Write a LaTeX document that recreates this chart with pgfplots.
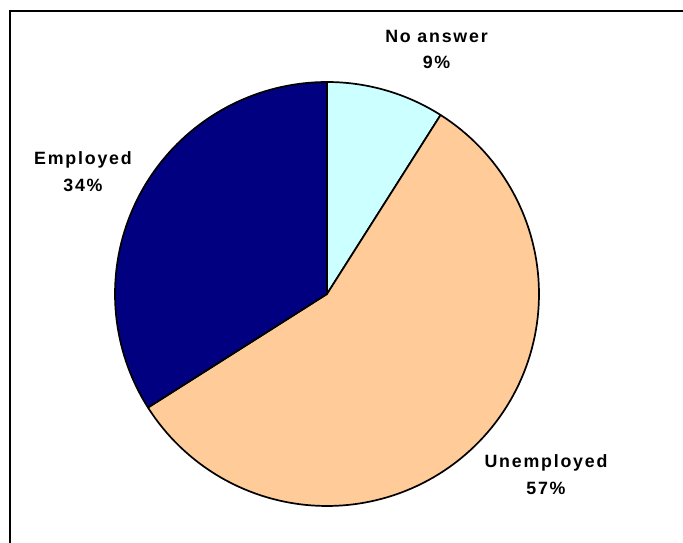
\documentclass[border=0pt]{standalone}
\usepackage{pgfplots}
\pgfplotsset{compat=1.18}
\usepackage{pgfplotstable}
\usepackage{fontspec}
\setmainfont{Liberation Sans}
\newfontfamily\lblfont[LetterSpace=10]{Liberation Sans}
\definecolor{noans}{HTML}{CCFFFF}
\definecolor{unemp}{HTML}{FFCC99}
\definecolor{emp}{HTML}{000080}
% share in percent, drawn clockwise from 12 o'clock
\pgfplotstableread{
label       share
NoAnswer    9
Unemployed  57
Employed    34
}\piedata
\begin{document}
\begin{tikzpicture}
\pgfplotstablegetelem{0}{share}\of\piedata \let\sA\pgfplotsretval
\pgfplotstablegetelem{1}{share}\of\piedata \let\sB\pgfplotsretval
\pgfplotstablegetelem{2}{share}\of\piedata \let\sC\pgfplotsretval
\pgfmathsetmacro{\aA}{90}
\pgfmathsetmacro{\aB}{\aA-3.6*\sA}
\pgfmathsetmacro{\aC}{\aB-3.6*\sB}
\pgfmathsetmacro{\aD}{\aC-3.6*\sC}
\begin{axis}[
  name=ax,
  scale only axis, width=683pt, height=543pt,
  xmin=0, xmax=683, ymin=0, ymax=543,
  hide axis, clip=false,
]
% frame
\draw[line width=2pt] (axis cs:10,0) -- (axis cs:10,532) -- (axis cs:683,532);
% pie sectors
\addplot[fill=noans, draw=black, line width=1.7pt, line join=round, domain=\aB:\aA, samples=40]
  ({327+212*cos(x)},{249+212*sin(x)}) -- (axis cs:327,249) -- cycle;
\addplot[fill=unemp, draw=black, line width=1.7pt, line join=round, domain=\aC:\aB, samples=120]
  ({327+212*cos(x)},{249+212*sin(x)}) -- (axis cs:327,249) -- cycle;
\addplot[fill=emp, draw=black, line width=1.7pt, line join=round, domain=\aD:\aC, samples=80]
  ({327+212*cos(x)},{249+212*sin(x)}) -- (axis cs:327,249) -- cycle;
% labels
\tikzset{lbl/.style={anchor=base, inner sep=0pt, font=\lblfont\bfseries\fontsize{17.8}{19}\selectfont}}
\node[lbl] at (axis cs:436.5,500.3) {No answer};
\node[lbl] at (axis cs:436.5,474) {\sA\%};
\node[lbl] at (axis cs:83,378) {Employed};
\node[lbl] at (axis cs:83,351) {\sC\%};
\node[lbl] at (axis cs:546,75.3) {Unemployed};
\node[lbl] at (axis cs:546,48) {\sB\%};
\end{axis}
\pgfresetboundingbox
\path (ax.south west) rectangle (ax.north east);
\end{tikzpicture}
\end{document}
